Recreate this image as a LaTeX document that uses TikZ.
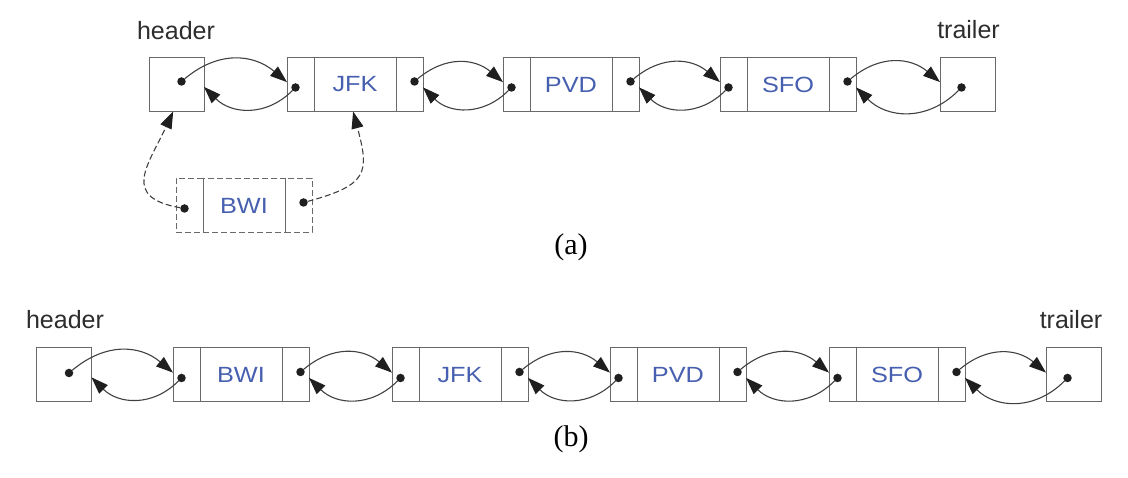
\documentclass[tikz,border=0pt]{standalone}
\usepackage{fontspec}
\setmainfont{Liberation Sans}
\newfontfamily\capfont{Liberation Serif}
\usetikzlibrary{arrows.meta,calc}
\definecolor{boxgray}{RGB}{105,105,105}
\definecolor{arrgray}{RGB}{65,65,65}
\definecolor{lblgray}{RGB}{45,45,45}
\definecolor{ptrblue}{RGB}{70,95,175}
\newcommand\listnode[5][]{%
  \node[cell,#1,anchor=west] (#2l) at (#3,#4) {};
  \node[mid,#1,anchor=west] (#2m) at (#2l.east) {\scalebox{1.15}[1]{#5}};
  \node[cell,#1,anchor=west] (#2r) at (#2m.east) {};
  \node[ptdot] (#2ld) at ($(#2l.center)+(-5,-3)$) {};
  \node[ptdot] (#2rd) at ($(#2r.center)+(5,3)$) {};
}
\tikzset{
  cell/.style={draw=boxgray, line width=1pt, minimum width=27pt, minimum height=54pt, inner sep=0pt, outer sep=0pt},
  mid/.style={cell, minimum width=82pt, text=ptrblue, font=\fontsize{22}{22}\selectfont},
  sq/.style={cell, minimum width=55pt},
  dsh/.style={dash pattern=on 6pt off 3pt},
  ptdot/.style={circle, fill=black!88, minimum size=8.5pt, inner sep=0pt, outer sep=0pt},
  fwd/.style={draw=arrgray, line width=1.1pt, -{Triangle[length=17pt,width=12pt,fill=black!88,color=black!88,sep=0pt]}},
  lbl/.style={text=lblgray, font=\fontsize{25}{25}\selectfont, anchor=base},
  captxt/.style={text=black, font=\capfont\fontsize{30}{30}\selectfont, anchor=base}
}
\begin{document}
\begin{tikzpicture}[x=1pt,y=1pt]
\useasboundingbox (0,0) rectangle (1128,478);
% ---------- (a) ----------
\node[sq] (ah) at (176.5,393.5) {};
\node[ptdot] (ahd) at ($(ah.center)+(5,3)$) {};
\listnode{aJ}{287}{393.5}{JFK}
\listnode{aP}{503}{393.5}{PVD}
\listnode{aS}{720}{393.5}{SFO}
\node[sq] (at) at (967.5,393.5) {};
\node[ptdot] (atd) at ($(at.center)+(-6,-3)$) {};
\node[lbl] (ahl) at (176,438) {header};
\node[lbl] (atl) at (968.5,439) {trailer};
\draw[fwd] (ahd) to[out=40,in=140,looseness=1.1] (aJl.170);
\draw[fwd] (aJld) to[out=225,in=-45,looseness=1.1] (ah.355);
\draw[fwd] (aJrd) to[out=40,in=140,looseness=1.1] (aPl.170);
\draw[fwd] (aPld) to[out=225,in=-45,looseness=1.1] (aJr.-12);
\draw[fwd] (aPrd) to[out=40,in=140,looseness=1.1] (aSl.170);
\draw[fwd] (aSld) to[out=225,in=-45,looseness=1.1] (aPr.-12);
\draw[fwd] (aSrd) to[out=40,in=140,looseness=1.1] (at.175);
\draw[fwd] (atd) to[out=225,in=-45,looseness=1.1] (aSr.-12);
% dashed BWI
\listnode[dsh]{aB}{176}{272.5}{BWI}
\draw[fwd,dsh] (aBld) to[out=170,in=-115,looseness=1.6] (ah.263);
\draw[fwd,dsh] (aBrd) to[out=15,in=-75,looseness=1.6] (aJm.266);
\node[captxt] (ca) at (571,223) {(a)};
% ---------- (b) ----------
\node[sq] (bh) at (64,103) {};
\node[ptdot] (bhd) at ($(bh.center)+(5,2)$) {};
\listnode{bB}{173}{103}{BWI}
\listnode{bJ}{392}{103}{JFK}
\listnode{bP}{610}{103}{PVD}
\listnode{bS}{829}{103}{SFO}
\node[sq] (bt) at (1073.5,103) {};
\node[ptdot] (btd) at ($(bt.center)+(-6,-3)$) {};
\node[lbl] (bhl) at (65,149) {header};
\node[lbl] (btl) at (1071,149) {trailer};
\draw[fwd] (bhd) to[out=40,in=140,looseness=1.1] (bBl.170);
\draw[fwd] (bBld) to[out=225,in=-45,looseness=1.1] (bh.355);
\draw[fwd] (bBrd) to[out=40,in=140,looseness=1.1] (bJl.170);
\draw[fwd] (bJld) to[out=225,in=-45,looseness=1.1] (bBr.-12);
\draw[fwd] (bJrd) to[out=40,in=140,looseness=1.1] (bPl.170);
\draw[fwd] (bPld) to[out=225,in=-45,looseness=1.1] (bJr.-12);
\draw[fwd] (bPrd) to[out=40,in=140,looseness=1.1] (bSl.170);
\draw[fwd] (bSld) to[out=225,in=-45,looseness=1.1] (bPr.-12);
\draw[fwd] (bSrd) to[out=40,in=140,looseness=1.1] (bt.175);
\draw[fwd] (btd) to[out=225,in=-45,looseness=1.1] (bSr.-12);
\node[captxt] (cb) at (571,31) {(b)};
\end{tikzpicture}
\end{document}
